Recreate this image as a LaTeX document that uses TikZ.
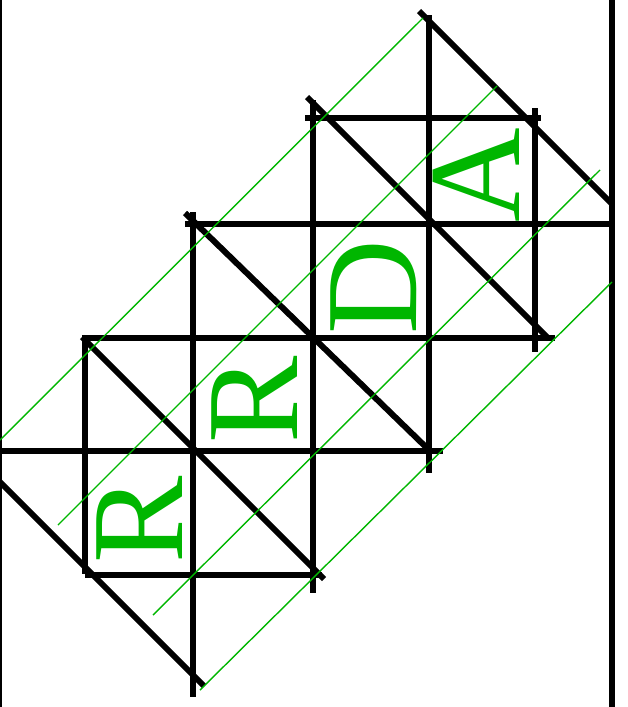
\documentclass[tikz,border=0pt]{standalone}
\usepackage{fontspec}
\setmainfont{Liberation Serif}
\definecolor{lettergreen}{RGB}{0,182,0}

\begin{document}
\begin{tikzpicture}[
  x=1pt, y=-1pt,
  edge/.style={line width=2pt, black},
  bar/.style={line width=6pt, black},
  hatch/.style={line width=1.4pt, lettergreen},
  letter/.style={text=lettergreen, rotate=90, inner sep=0pt,
                 font=\fontsize{131}{131}\selectfont}
]
\useasboundingbox (0,0) rectangle (628,707);

% outer edges
\draw[edge] (1,0) -- (1,707);
\draw[bar] (612,0) -- (612,707);

% verticals
\draw[bar] (85,338) -- (85,574);
\draw[bar] (193,212) -- (193,697);
\draw[bar] (313,100) -- (313,593);
\draw[bar] (429,15) -- (429,473);
\draw[bar] (535,108) -- (535,352);

% horizontals
\draw[bar] (305,118) -- (541,118);
\draw[bar] (185,224) -- (612,224);
\draw[bar] (82,338) -- (555,338);
\draw[bar] (0,451) -- (443,451);
\draw[bar] (85,575) -- (322,575);

% diagonals
\draw[bar] (419,11) -- (612,204);
\draw[bar] (307,97) -- (549,339);
\draw[bar] (185,213) -- (430,451);
\draw[bar] (82,337) -- (324,579);
\draw[bar] (0,482) -- (204,686);

% green strokes
\draw[hatch] (0,440) -- (423,18);
\draw[hatch] (58,525) -- (497,86);
\draw[hatch] (153,615) -- (600,170);
\draw[hatch] (200,690) -- (612,282);

% letters
\node[letter] (r1) at (140,519.5) {R};
\node[letter] (r2) at (255,399.5) {R};
\node[letter] (d) at (373.5,287.5) {D};
\node[letter] (a) at (476.5,175) {A};
\end{tikzpicture}
\end{document}
